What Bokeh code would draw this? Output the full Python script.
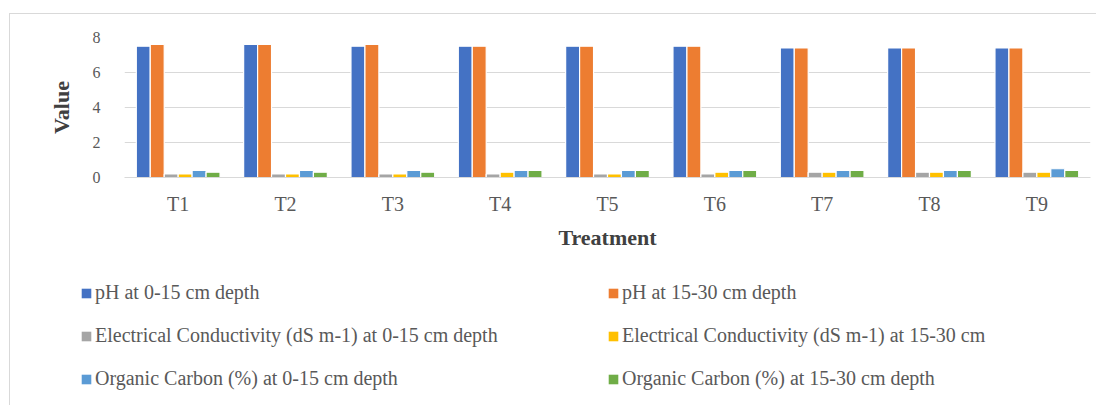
from bokeh.plotting import figure
from bokeh.layouts import column
from bokeh.models import ColumnDataSource, Range1d, FactorRange, Legend, LegendItem
from bokeh.transform import dodge
from bokeh.embed import file_html
from bokeh.resources import INLINE

treatments = ["T1", "T2", "T3", "T4", "T5", "T6", "T7", "T8", "T9"]
ph_0_15 = [7.5, 7.6, 7.5, 7.5, 7.5, 7.5, 7.4, 7.4, 7.4]
ph_15_30 = [7.6, 7.6, 7.6, 7.5, 7.5, 7.5, 7.4, 7.4, 7.4]
ec_0_15 = [0.2, 0.2, 0.2, 0.2, 0.2, 0.2, 0.3, 0.3, 0.3]
ec_15_30 = [0.2, 0.2, 0.2, 0.3, 0.2, 0.3, 0.3, 0.3, 0.3]
oc_0_15 = [0.4, 0.4, 0.4, 0.4, 0.4, 0.4, 0.4, 0.4, 0.5]
oc_15_30 = [0.3, 0.3, 0.3, 0.4, 0.4, 0.4, 0.4, 0.4, 0.4]

series_labels = [
    "pH at 0-15 cm depth",
    "pH at 15-30 cm depth",
    "Electrical Conductivity (dS m-1) at 0-15 cm depth",
    "Electrical Conductivity (dS m-1) at 15-30 cm",
    "Organic Carbon (%) at 0-15 cm depth",
    "Organic Carbon (%) at 15-30 cm depth",
]
series_keys = ["ph15", "ph30", "ec15", "ec30", "oc15", "oc30"]
colors = ["#4472C4", "#ED7D31", "#A5A5A5", "#FFC000", "#5B9BD5", "#70AD47"]

source = ColumnDataSource(dict(
    cat=treatments, ph15=ph_0_15, ph30=ph_15_30, ec15=ec_0_15,
    ec30=ec_15_30, oc15=oc_0_15, oc30=oc_15_30,
))

FONT = "Liberation Serif"
TXT = "#595959"

# main chart: content origin at page (10, 14)
p = figure(
    x_range=FactorRange(*treatments), y_range=Range1d(0, 8),
    width=1086, height=241, output_backend="svg", toolbar_location=None,
    min_border_left=114, min_border_right=6, min_border_top=23, min_border_bottom=78,
)
p.frame_align = False

slot = 0.13
for i, (key, col) in enumerate(zip(series_keys, colors)):
    off = (i - 2.5) * slot
    p.vbar(x=dodge("cat", off, range=p.x_range), top=key, width=slot, bottom=0,
           source=source, fill_color=col, line_color="white", line_width=1.2)

p.outline_line_color = None
p.xgrid.grid_line_color = None
p.ygrid.grid_line_color = "#d9d9d9"
p.ygrid.grid_line_width = 1

p.yaxis.ticker = [0, 2, 4, 6, 8]
p.yaxis.axis_line_color = None
p.yaxis.major_tick_line_color = None
p.yaxis.minor_tick_line_color = None
p.yaxis.major_label_standoff = 18
p.yaxis.major_label_text_font = FONT
p.yaxis.major_label_text_font_size = "16px"
p.yaxis.major_label_text_color = TXT
p.yaxis.axis_label = "Value"
p.yaxis.axis_label_text_font = FONT
p.yaxis.axis_label_text_font_size = "22px"
p.yaxis.axis_label_text_font_style = "bold"
p.yaxis.axis_label_text_color = "#404040"
p.yaxis.axis_label_standoff = 16

p.xaxis.axis_line_color = "#d9d9d9"
p.xaxis.major_tick_line_color = None
p.xaxis.minor_tick_line_color = None
p.xaxis.major_label_standoff = 9
p.xaxis.major_label_text_font = FONT
p.xaxis.major_label_text_font_size = "20px"
p.xaxis.major_label_text_color = TXT
p.xaxis.axis_label = "Treatment"
p.xaxis.axis_label_text_font = FONT
p.xaxis.axis_label_text_font_size = "22px"
p.xaxis.axis_label_text_font_style = "bold"
p.xaxis.axis_label_text_color = "#404040"
p.xaxis.axis_label_standoff = 7

# legend panel below the chart
pl = figure(
    width=1086, height=150, output_backend="svg", toolbar_location=None,
    x_range=Range1d(0, 1), y_range=Range1d(0, 1),
    min_border_left=0, min_border_right=0, min_border_top=0, min_border_bottom=0,
)
pl.frame_align = False
pl.axis.visible = False
pl.grid.grid_line_color = None
pl.outline_line_color = None
items = []
for lab, col in zip(series_labels, colors):
    r = pl.vbar(x=[5], top=[1], width=0.1, fill_color=col, line_color=None)
    items.append(LegendItem(label=lab, renderers=[r]))

legend = Legend(
    items=items, orientation="horizontal", ncols=2,
    location=(70, 15), padding=0, margin=0,
    border_line_color=None, background_fill_alpha=0,
    glyph_width=12, glyph_height=12, label_standoff=3,
    label_width=492, label_height=22, spacing=20,
    label_text_font=FONT, label_text_font_size="20px", label_text_color=TXT,
)
pl.add_layout(legend)

layout = column(p, pl, spacing=0,
                styles={"border-top": "1px solid #d9d9d9", "border-left": "1px solid #d9d9d9",
                        "margin-left": "9px", "margin-top": "13px"})

open("out.html", "w").write(file_html(layout, INLINE))
